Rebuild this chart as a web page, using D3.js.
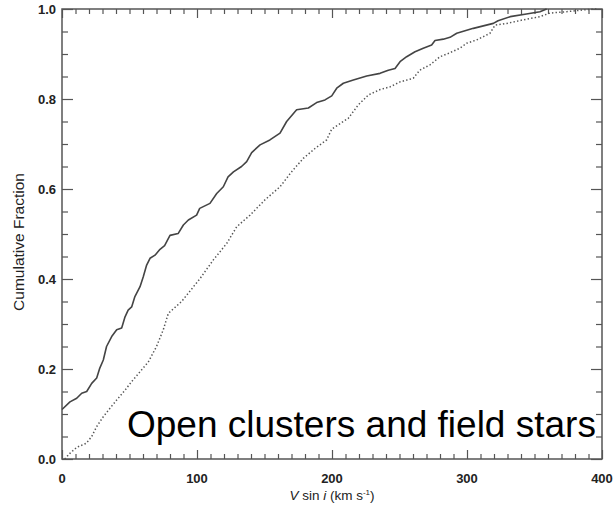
<!DOCTYPE html>
<html>
<head>
<meta charset="utf-8">
<script src="https://cdn.jsdelivr.net/npm/d3@7"></script>
<style>
  html, body { margin: 0; padding: 0; background: #fff; }
  svg { display: block; }
</style>
</head>
<body>
<script>
// Open clusters: V sin i (km/s) vs cumulative fraction
const clusterV = [0, 5.9, 10.9, 14.6, 18.3, 22, 25.7, 28, 30.6, 33, 36.8, 40.5, 44.2, 46.7, 49, 51.6, 54, 57.8, 60.2, 62.7, 65.2, 68.9, 72.6, 76, 80, 86, 89.9, 93.6, 99.7, 102, 109.6, 114.6, 119.5, 123, 127, 133, 136.8, 140.5, 146.7, 154, 161.5, 166.4, 173.8, 182.5, 188.6, 194.8, 199.8, 203.5, 208.4, 215.8, 225.7, 235.6, 241.7, 246.7, 250.4, 255.3, 261.5, 267.6, 273.8, 276.3, 282.5, 287.4, 292.4, 304.7, 319.5, 323, 332, 344, 354, 359];
const clusterF = [0.11, 0.127, 0.135, 0.146, 0.150, 0.168, 0.18, 0.202, 0.22, 0.25, 0.272, 0.287, 0.291, 0.316, 0.331, 0.338, 0.361, 0.383, 0.405, 0.431, 0.446, 0.453, 0.466, 0.474, 0.497, 0.501, 0.52, 0.531, 0.542, 0.557, 0.568, 0.59, 0.605, 0.627, 0.638, 0.65, 0.661, 0.681, 0.698, 0.709, 0.724, 0.75, 0.776, 0.780, 0.792, 0.798, 0.807, 0.824, 0.835, 0.842, 0.851, 0.857, 0.864, 0.868, 0.883, 0.894, 0.905, 0.913, 0.92, 0.93, 0.933, 0.937, 0.946, 0.957, 0.968, 0.974, 0.983, 0.989, 0.994, 1.0];

// Field stars
const fieldV = [2, 6, 11, 18, 22, 25.7, 30.6, 35.6, 40.5, 46.7, 51.6, 57.8, 64, 70, 75, 78.8, 80, 88.6, 102, 112, 122, 129.4, 139.3, 150.4, 161.5, 170, 178.7, 187.4, 196, 199.8, 208.4, 212, 219.5, 227, 235.6, 243, 250.4, 260.2, 265, 272.6, 280, 286, 294.8, 299.8, 307, 317, 320.7, 329.4, 341.7, 354, 361.5, 373.8, 386, 396];
const fieldF = [0, 0.013, 0.026, 0.035, 0.05, 0.072, 0.094, 0.113, 0.131, 0.153, 0.172, 0.194, 0.216, 0.25, 0.287, 0.324, 0.327, 0.35, 0.40, 0.442, 0.479, 0.516, 0.542, 0.576, 0.605, 0.638, 0.668, 0.69, 0.709, 0.733, 0.75, 0.757, 0.787, 0.809, 0.821, 0.827, 0.838, 0.846, 0.864, 0.876, 0.894, 0.901, 0.913, 0.924, 0.931, 0.946, 0.964, 0.968, 0.976, 0.983, 0.991, 0.994, 0.998, 1.0];

const xTickValues = [0, 100, 200, 300, 400];
const yTickValues = [0.0, 0.2, 0.4, 0.6, 0.8, 1.0];
const annotation = "Open clusters and field stars";

const W = 614, H = 509;
const L = 62, R = 602, T = 9, B = 459;

const svg = d3.select("body").append("svg").attr("width", W).attr("height", H);

const x = d3.scaleLinear().domain([0, 400]).range([L, R]);
const y = d3.scaleLinear().domain([0, 1]).range([B, T]);

const frameColor = "#555";
const font = "'Liberation Sans', Arial, Helvetica, sans-serif";

// minor ticks
const xMinor = d3.range(0, 401, 10).filter(v => v % 100 !== 0);
const yMinor = d3.range(0, 21).map(i => i * 0.05).filter(v => Math.abs(v * 5 - Math.round(v * 5)) > 1e-6);

function drawAxis(axis, g) { g.call(axis); g.select(".domain").remove(); g.selectAll("line").attr("stroke", frameColor).attr("stroke-width", 1.2); }

// bottom
drawAxis(d3.axisTop(x).tickValues(xTickValues).tickSize(9).tickFormat(""), svg.append("g").attr("transform", `translate(0,${B})`));
drawAxis(d3.axisTop(x).tickValues(xMinor).tickSize(5).tickFormat(""), svg.append("g").attr("transform", `translate(0,${B})`));
// top
drawAxis(d3.axisBottom(x).tickValues(xTickValues).tickSize(9).tickFormat(""), svg.append("g").attr("transform", `translate(0,${T})`));
drawAxis(d3.axisBottom(x).tickValues(xMinor).tickSize(5).tickFormat(""), svg.append("g").attr("transform", `translate(0,${T})`));
// left
drawAxis(d3.axisRight(y).tickValues(yTickValues).tickSize(11).tickFormat(""), svg.append("g").attr("transform", `translate(${L},0)`));
drawAxis(d3.axisRight(y).tickValues(yMinor).tickSize(6).tickFormat(""), svg.append("g").attr("transform", `translate(${L},0)`));
// right
drawAxis(d3.axisLeft(y).tickValues(yTickValues).tickSize(11).tickFormat(""), svg.append("g").attr("transform", `translate(${R},0)`));
drawAxis(d3.axisLeft(y).tickValues(yMinor).tickSize(6).tickFormat(""), svg.append("g").attr("transform", `translate(${R},0)`));

// frame
svg.append("rect").attr("x", L).attr("y", T).attr("width", R - L).attr("height", B - T)
  .attr("fill", "none").attr("stroke", frameColor).attr("stroke-width", 1.5);

// tick labels
svg.append("g").selectAll("text").data(xTickValues).join("text")
  .attr("x", d => x(d)).attr("y", 483)
  .attr("text-anchor", "middle")
  .attr("font-family", font).attr("font-size", 13).attr("font-weight", "bold").attr("fill", "#222")
  .text(d => d3.format("d")(d));

svg.append("g").selectAll("text").data(yTickValues).join("text")
  .attr("x", 56).attr("y", d => y(d) + 4.5)
  .attr("text-anchor", "end")
  .attr("font-family", font).attr("font-size", 13).attr("font-weight", "bold").attr("fill", "#222")
  .text(d => d3.format(".1f")(d));

// axis titles
const xt = svg.append("text").attr("x", 332).attr("y", 500).attr("text-anchor", "middle")
  .attr("font-family", font).attr("font-size", 13.5).attr("fill", "#222");
xt.append("tspan").attr("font-style", "italic").text("V");
xt.append("tspan").text(" sin ");
xt.append("tspan").attr("font-style", "italic").text("i");
xt.append("tspan").text(" (km s");
xt.append("tspan").attr("font-size", 8).attr("dy", -5).text("-1");
xt.append("tspan").attr("dy", 5).text(")");

svg.append("text")
  .attr("transform", `translate(24,${242}) rotate(-90)`)
  .attr("text-anchor", "middle")
  .attr("font-family", font).attr("font-size", 15.5).attr("fill", "#222")
  .text("Cumulative Fraction");

// curves
const line = d3.line().x(d => x(d[0])).y(d => y(d[1]));
const clusterData = clusterV.map((v, i) => [v, clusterF[i]]);
const fieldData = fieldV.map((v, i) => [v, fieldF[i]]);

svg.append("path").datum(fieldData).attr("d", line)
  .attr("fill", "none").attr("stroke", "#555").attr("stroke-width", 1.5)
  .attr("stroke-dasharray", "1.4,2.2");

svg.append("path").datum(clusterData).attr("d", line)
  .attr("fill", "none").attr("stroke", "#444").attr("stroke-width", 1.6)
  .attr("stroke-linejoin", "round");

// annotation
svg.append("text").attr("x", 127).attr("y", 437)
  .attr("font-family", font).attr("font-size", 37).attr("fill", "#000")
  .text(annotation);
</script>
</body>
</html>
